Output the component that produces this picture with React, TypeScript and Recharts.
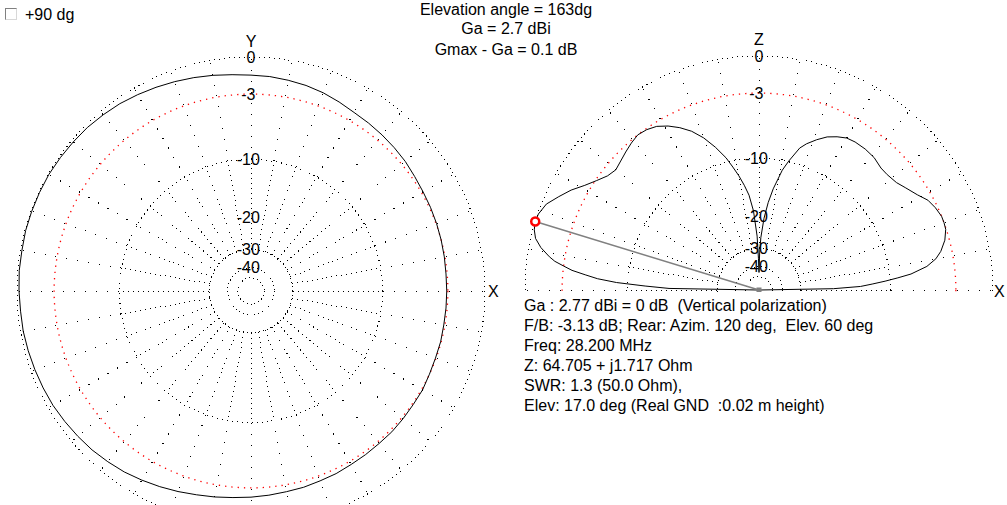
import React from 'react'
import { RadarChart, Radar, PolarGrid, PolarAngleAxis, PolarRadiusAxis } from 'recharts'

// horizontal pattern at 17 deg elevation: azimuth (deg, ccw from X) and gain in dB rel. Ga
const azAngles = [
  0, 5, 10, 15, 20, 25, 30, 35, 40, 45, 50, 55, 60, 65, 70, 75, 80, 85, 90, 95, 100, 105, 110, 115, 120, 125, 130, 135, 140, 145, 150, 155, 160, 165, 170,
  175, 180, 185, 190, 195, 200, 205, 210, 215, 220, 225, 230, 235, 240, 245, 250, 255, 260, 265, 270, 275, 280, 285, 290, 295, 300, 305, 310, 315, 320,
  325, 330, 335, 340, 345, 350, 355,
]
const azGain = [
  -3.1, -3.1, -3.05, -3.0, -2.95, -2.9, -2.85, -2.75, -2.6, -2.5, -2.4, -2.3, -2.2, -2.0, -1.8, -1.65, -1.55, -1.45, -1.4, -1.3, -1.15, -1.0, -0.85, -0.7,
  -0.55, -0.4, -0.3, -0.2, -0.15, -0.1, -0.05, -0.05, -0.05, -0.05, -0.1, -0.1, -0.15, -0.2, -0.2, -0.25, -0.3, -0.35, -0.4, -0.5, -0.6, -0.7, -0.85, -1.0,
  -1.2, -1.4, -1.6, -1.8, -1.95, -2.1, -2.2, -2.3, -2.4, -2.45, -2.55, -2.6, -2.7, -2.75, -2.8, -2.8, -2.85, -2.9, -2.9, -3.0, -3.05, -3.05, -3.1, -3.1,
]

// vertical pattern: elevation (deg from horizon, X side = 0, back = 180) and gain in dB
const elAngles = [
  0, 1, 2, 3, 4, 5, 6, 8, 10, 12, 15, 18, 20, 22, 25, 28, 31, 35, 38, 42, 45, 49, 53, 57, 60, 63, 66, 69, 72, 74, 77, 79, 82, 84, 86, 88, 89, 90,
  91, 92, 94, 96, 98, 100, 102, 104, 107, 110, 113, 116, 119, 122, 125, 128, 131, 134, 137, 140, 143, 146, 149, 152, 155, 158, 161, 163, 165,
  167, 169, 171, 172, 173, 174, 175, 176, 177, 178, 179, 180,
]
const elGain = [
  -99, -19.9, -14.5, -12.6, -10.7, -9.0, -7.4, -5.6, -4.6, -4.0, -3.4, -3.05, -3.0, -3.0, -3.2, -3.5, -4.1, -4.7, -5.1, -5.3, -5.3, -5.0, -4.9, -4.9, -5.0,
  -5.35, -5.8, -6.5, -7.3, -8.0, -9.9, -11.3, -14.4, -17, -20.5, -26, -32, -45,
  -35, -25.5, -18.8, -15.6, -13.8, -12.2, -10.8, -9.4, -7.8, -6.4, -5.3, -4.5, -3.85, -3.35, -3.1, -3.0, -3.2, -3.45, -3.7, -3.9, -3.65, -3.1,
  -2.45, -1.65, -1.0, -0.35, -0.05, 0, -0.1, -0.35, -0.9, -1.7, -2.2, -3.0, -3.8, -5.1, -6.4, -8.6, -12.5, -16.6, -99,
]

const cursorElev = 163
const ringLevels = [0, -10, -30, -40, -50]
const labelLevels = [0, -3, -10, -20, -30, -40]

const titleLines = ['Elevation angle = 163dg', 'Ga = 2.7 dBi', 'Gmax - Ga = 0.1 dB']
const infoLines = [
  'Ga : 2.77 dBi = 0 dB  (Vertical polarization)',
  'F/B: -3.13 dB; Rear: Azim. 120 deg,  Elev. 60 deg',
  'Freq: 28.200 MHz',
  'Z: 64.705 + j1.717 Ohm',
  'SWR: 1.3 (50.0 Ohm),',
  'Elev: 17.0 deg (Real GND  :0.02 m height)',
]

const FONT = '"Liberation Sans", Arial, sans-serif'
const R = 234
// MMANA style log scale: radius ~ 10^(dB/40)
const field = (db: number) => Math.pow(10, db / 40)
const ringR = (db: number) => R * field(db)

const azData = azAngles.map((a, i) => ({ angle: a, amp: field(azGain[i]) }))
const elData = elAngles.map((a, i) => ({ angle: a, amp: field(elGain[i]) }))
const cursorData = [
  { angle: cursorElev, amp: 0 },
  { angle: cursorElev, amp: field(elGain[elAngles.indexOf(cursorElev)]) },
]

const spokesFull = Array.from({ length: 36 }, (_, i) => i * 10)
const spokesHalf = Array.from({ length: 19 }, (_, i) => i * 10)

const ringTick = (p: any) => {
  const db = Math.round(40 * Math.log10(p.payload.value))
  const digits = String(Math.abs(db))
  const half = (digits.length * 8.9) / 2
  return (
    <g>
      <text x={p.x} y={p.y + 5.7} textAnchor="middle" fontSize={16} fontFamily={FONT} fill="#000">
        {digits}
      </text>
      {db < 0 && (
        <text x={p.x - half} y={p.y + 5.7} textAnchor="end" fontSize={16} fontFamily={FONT} fill="#000">
          -
        </text>
      )}
    </g>
  )
}

const cursorDot = (p: any) =>
  p.index === 1 ? (
    <circle key="end" cx={p.cx} cy={p.cy} r={4} fill="#fff" stroke="#ff0000" strokeWidth={2.5} />
  ) : (
    <rect key="start" x={p.cx - 2.5} y={p.cy - 2.5} width={5} height={5} fill="#808080" />
  )

const noMargin = { top: 0, right: 0, bottom: 0, left: 0 }

function Ring({ radii, dash, color = '#000', crisp = true, width = 1 }: any) {
  return (
    <PolarGrid
      gridType="circle"
      radialLines={false}
      polarAngles={[]}
      polarRadius={radii}
      stroke={color}
      strokeWidth={width}
      strokeDasharray={dash}
      shapeRendering={crisp ? 'crispEdges' : 'auto'}
    />
  )
}

function PolarPlot({ data, x, width, height, cx, cy, span, spokes, withCursor }: any) {
  const base = { width, height, cx, cy, margin: noMargin, startAngle: 0, endAngle: span, data }
  const pos = { position: 'absolute' as const, left: x, top: 0 }
  return (
    <>
      <RadarChart {...base} innerRadius={ringR(-30)} outerRadius={ringR(-10)} style={pos}>
        <PolarGrid gridType="circle" polarAngles={spokes} polarRadius={[]} stroke="#000" strokeDasharray="1 4" shapeRendering="crispEdges" />
      </RadarChart>
      <RadarChart {...base} innerRadius={ringR(-10)} outerRadius={R} style={pos}>
        <PolarGrid gridType="circle" polarAngles={spokes} polarRadius={[]} stroke="#000" strokeDasharray="1 10" shapeRendering="crispEdges" />
      </RadarChart>
      <RadarChart {...base} innerRadius={0} outerRadius={R} style={pos}>
        {Ring({ radii: [R], dash: '1 4' })}
        {Ring({ radii: [ringR(-10)], dash: '1 4' })}
        {Ring({ radii: ringLevels.filter((l) => l < -10).map(ringR), dash: '1 3' })}
        {Ring({ radii: [ringR(-3)], dash: '1.3 5', color: '#ff0000', crisp: false, width: 1.3 })}
        <PolarAngleAxis type="number" dataKey="angle" domain={[0, span]} tick={false} axisLine={false} />
        <PolarRadiusAxis
          type="number"
          domain={[0, 1]}
          angle={90}
          axisLine={false}
          ticks={labelLevels.map(field)}
          tick={ringTick}
        />
        <Radar dataKey="amp" stroke="#000" strokeWidth={1} fill="none" fillOpacity={0} dot={false} isAnimationActive={false} />
      </RadarChart>
      {withCursor && (
        <RadarChart {...base} data={cursorData} innerRadius={0} outerRadius={R} style={pos}>
          <PolarAngleAxis type="number" dataKey="angle" domain={[0, span]} tick={false} axisLine={false} />
          <PolarRadiusAxis type="number" domain={[0, 1]} tick={false} axisLine={false} />
          <Radar dataKey="amp" stroke="#808080" strokeWidth={1.5} fill="none" fillOpacity={0} dot={cursorDot} isAnimationActive={false} />
        </RadarChart>
      )}
    </>
  )
}

const txt = (left: number, top: number, s: string, extra: any = {}) => (
  <div key={s + left + top} style={{ position: 'absolute', left, top, lineHeight: '19px', whiteSpace: 'pre', ...extra }}>
    {s}
  </div>
)

export default function App() {
  const L = { cx: 251, cy: 291 }
  const Rt = { x: 500, cx: 259, cy: 290 }
  return (
    <div
      style={{
        position: 'fixed',
        left: 0,
        top: 0,
        width: 1007,
        height: 505,
        overflow: 'hidden',
        background: '#fff',
        fontFamily: FONT,
        fontSize: 16,
        color: '#000',
      }}
    >
      <PolarPlot data={azData} x={0} width={500} height={505} cx={L.cx} cy={L.cy} span={360} spokes={spokesFull} />
      <PolarPlot data={elData} x={Rt.x} width={500} height={Rt.cy + 2} cx={Rt.cx} cy={Rt.cy} span={180} spokes={spokesHalf} withCursor />

      {/* checkbox */}
      <div
        style={{
          position: 'absolute',
          left: 5,
          top: 8,
          width: 10,
          height: 10,
          borderTop: '1px solid #808080',
          borderLeft: '1px solid #808080',
          borderRight: '1px solid #d8d8d8',
          borderBottom: '1px solid #d8d8d8',
          background: '#fff',
        }}
      />
      {txt(25, 4.5, '+90 dg')}

      {titleLines.map((s, i) => (
        <div
          key={s}
          style={{ position: 'absolute', left: 306, width: 400, top: [0, 19, 39.5][i], lineHeight: '19px', textAlign: 'center' }}
        >
          {s}
        </div>
      ))}

      {/* axis names */}
      <div style={{ position: 'absolute', left: L.cx - 20, width: 40, top: L.cy - R - 25, lineHeight: '19px', textAlign: 'center' }}>Y</div>
      <div style={{ position: 'absolute', left: Rt.x + Rt.cx - 20, width: 40, top: Rt.cy - R - 26, lineHeight: '19px', textAlign: 'center' }}>Z</div>
      {txt(L.cx + R + 3, L.cy - 9.5, 'X')}
      {txt(Rt.x + Rt.cx + R + 1, Rt.cy - 8.5, 'X')}

      {infoLines.map((s, i) => (
        <div key={s} style={{ position: 'absolute', left: 524, top: 295.5 + i * 20, lineHeight: '20px', whiteSpace: 'pre' }}>
          {s}
        </div>
      ))}
    </div>
  )
}
